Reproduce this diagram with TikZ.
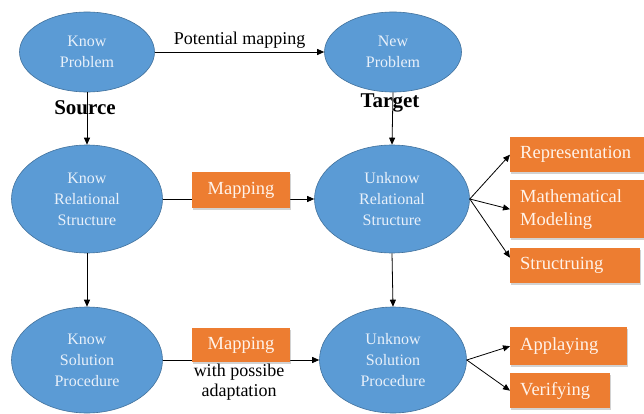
\documentclass[tikz,border=0pt]{standalone}
\usepackage{fontspec}
\setmainfont{Liberation Serif}
\usetikzlibrary{arrows.meta,shadows,shapes.geometric}
\definecolor{eblue}{HTML}{5B9BD5}
\definecolor{eborder}{HTML}{41719C}
\definecolor{borange}{HTML}{ED7D31}
\definecolor{etext}{HTML}{E8F0FA}
\definecolor{otext}{HTML}{FFF3EA}
\begin{document}
\begin{tikzpicture}[x=1pt,y=-1pt,
 ell/.style={ellipse, draw=eborder, fill=eblue, text=etext, font=\fontsize{16}{21}\selectfont, align=center, inner sep=0pt, line width=0.6pt},
 obox/.style={draw=none, fill=borange, text=otext, font=\fontsize{18.5}{23}\selectfont, inner sep=0pt, drop shadow={opacity=0.35, shadow xshift=1pt, shadow yshift=-1.5pt}},
 rbox/.style={obox, anchor=north west, align=left, inner xsep=10pt},
 arr/.style={-{Triangle[length=7pt,width=6pt]}, line width=0.8pt},
 lbl/.style={font=\fontsize{18}{20}\selectfont, align=center},
 side/.style={font=\bfseries\fontsize{21}{22}\selectfont}]
\useasboundingbox (0,0) rectangle (644,414);
\fill[white] (0,0) rectangle (644,414);
% ellipses
\node[ell, minimum width=135, minimum height=80] (kp) at (87,52) {Know\\Problem};
\node[ell, minimum width=137, minimum height=80] (np) at (393,52) {New\\Problem};
\node[ell, minimum width=151, minimum height=108] (krs) at (87,199) {Know\\Relational\\Structure};
\node[ell, minimum width=155, minimum height=108] (urs) at (392,199) {Unknow\\Relational\\Structure};
\node[ell, minimum width=151, minimum height=106] (ksp) at (87,360) {Know\\Solution\\Procedure};
\node[ell, minimum width=147, minimum height=106] (usp) at (393,360) {Unknow\\Solution\\Procedure};
% labels
\node[side] (src) at (85,108) {Source};
\node[side] (tgt) at (390,103) {Target};
% vertical arrows
\draw[arr] (kp.south) -- (krs.north);
\draw[arr] (np.south) -- (urs.north);
\draw[arr] (krs.south) -- (ksp.north);
\draw[arr] (urs.south) -- (usp.north);
% horizontal
\draw[arr] (kp.east) -- node[lbl, above=0pt] (pm) {Potential mapping} (np.west);
\draw[arr] (krs.east) -- (urs.west);
\draw[arr] (ksp.east) -- (usp.west);
\node[obox, minimum width=98, minimum height=36] (m1) at (241,190) {Mapping};
\node[obox, minimum width=98, minimum height=34] (m2) at (241,345) {Mapping};
\node[lbl] (wpa) at (239,382) {with possibe\\adaptation};
% right boxes
\node[rbox, minimum width=134, minimum height=35, text width=114] (rep) at (510,137) {Representation};
\node[rbox, minimum width=134, minimum height=58, text width=114] (mm) at (510,180) {Mathematical\\Modeling};
\node[rbox, minimum width=130, minimum height=35, text width=110] (str) at (510,248) {Structruing};
\node[rbox, minimum width=117, minimum height=38, text width=97] (app) at (510,327) {Applaying};
\node[rbox, minimum width=100, minimum height=35, text width=80] (ver) at (510,373) {Verifying};
\draw[arr] (urs.east) -- (rep.west);
\draw[arr] (urs.east) -- (mm.west);
\draw[arr] (urs.east) -- ([yshift=8pt]str.west);
\draw[arr] (usp.east) -- (app.west);
\draw[arr] (usp.east) -- (ver.west);
\end{tikzpicture}
\end{document}
